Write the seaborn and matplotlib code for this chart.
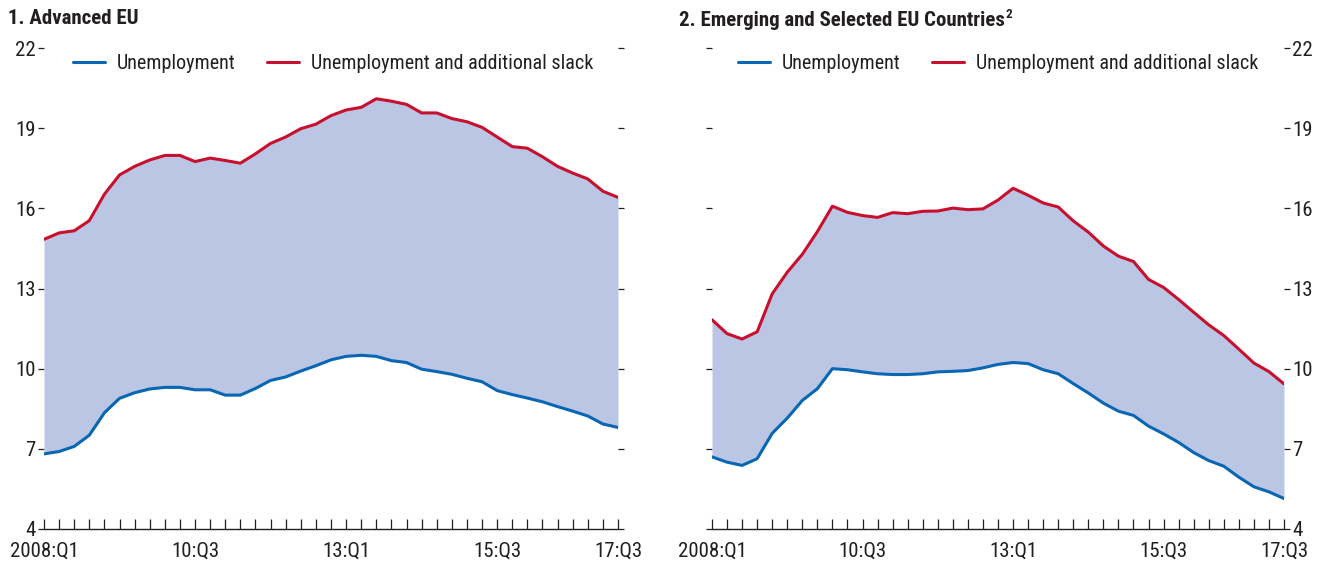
import matplotlib
matplotlib.use("Agg")
import matplotlib.pyplot as plt
import seaborn as sns
import pandas as pd
from matplotlib.lines import Line2D

# ---------------- data ----------------
quarters = [f"{y}:Q{q}" for y in range(2008, 2018) for q in range(1, 5)][:39]
tick_labels = ["2008:Q1", "10:Q3", "13:Q1", "15:Q3", "17:Q3"]
tick_quarters = ["2008:Q1", "2010:Q3", "2013:Q1", "2015:Q3", "2017:Q3"]
yticks = [4, 7, 10, 13, 16, 19, 22]

adv_unemp = [6.81, 6.90, 7.09, 7.51, 8.35, 8.89, 9.10, 9.24, 9.30, 9.30,
             9.21, 9.21, 9.01, 9.01, 9.26, 9.56, 9.69, 9.91, 10.11, 10.33,
             10.46, 10.50, 10.46, 10.30, 10.23, 9.98, 9.89, 9.79, 9.64, 9.51,
             9.18, 9.03, 8.90, 8.76, 8.58, 8.41, 8.23, 7.93, 7.80]
adv_slack = [14.84, 15.08, 15.16, 15.54, 16.53, 17.25, 17.57, 17.81, 17.98, 17.98,
             17.75, 17.88, 17.79, 17.69, 18.04, 18.43, 18.67, 18.98, 19.15, 19.47,
             19.68, 19.78, 20.10, 20.01, 19.89, 19.57, 19.57, 19.36, 19.24, 19.03,
             18.67, 18.31, 18.25, 17.93, 17.57, 17.32, 17.10, 16.64, 16.41]
em_unemp = [6.70, 6.50, 6.38, 6.63, 7.58, 8.15, 8.81, 9.25, 10.00, 9.96,
            9.88, 9.81, 9.78, 9.78, 9.81, 9.88, 9.90, 9.93, 10.03, 10.16,
            10.23, 10.19, 9.96, 9.81, 9.44, 9.09, 8.71, 8.41, 8.25, 7.85,
            7.56, 7.24, 6.86, 6.56, 6.35, 5.94, 5.58, 5.39, 5.14]
em_slack = [11.83, 11.31, 11.11, 11.38, 12.80, 13.61, 14.28, 15.13, 16.08, 15.85,
            15.73, 15.66, 15.84, 15.80, 15.89, 15.90, 16.01, 15.95, 15.98, 16.31,
            16.75, 16.49, 16.20, 16.05, 15.53, 15.11, 14.59, 14.21, 14.01, 13.34,
            13.04, 12.59, 12.11, 11.64, 11.24, 10.73, 10.21, 9.89, 9.43]

series_names = ["Unemployment", "Unemployment and additional slack"]

# ---------------- style ----------------
sns.set_theme(style="white")
FONT = ["Roboto Condensed", "DejaVu Sans"]
plt.rcParams["font.family"] = FONT
TXT = "#231F20"
BLUE = "#0866B2"
RED = "#C8102E"
FILL = "#BAC6E4"
FS = 15
LFS = 14.5

fig = plt.figure(figsize=(13.19, 5.63), dpi=100)
W, H = 1319, 563
ax1 = fig.add_axes([44 / W, 34 / H, 574 / W, 481 / H])
ax2 = fig.add_axes([712 / W, 34 / H, 572 / W, 481 / H])

tick_pos = [quarters.index(q) for q in tick_quarters]


def draw(ax, unemp, slack, right_labels, leg_x):
    df = pd.DataFrame({"idx": range(len(quarters)), "quarter": quarters,
                       series_names[0]: unemp, series_names[1]: slack})
    ax.fill_between(df["idx"], df[series_names[0]], df[series_names[1]],
                    color=FILL, lw=0, zorder=1)
    sns.lineplot(data=df, x="idx", y=series_names[0], ax=ax, color=BLUE,
                 lw=2.2, zorder=3)
    sns.lineplot(data=df, x="idx", y=series_names[1], ax=ax, color=RED,
                 lw=2.2, zorder=3)
    ax.set_xlim(0, len(quarters) - 1)
    ax.set_ylim(4, 22)
    ax.set_xlabel("")
    ax.set_ylabel("")
    for s in ["top", "left", "right"]:
        ax.spines[s].set_visible(False)
    ax.spines["bottom"].set_color(TXT)
    ax.spines["bottom"].set_linewidth(1.0)
    ax.set_xticks(tick_pos)
    ax.set_xticklabels(tick_labels)
    ax.set_xticks(range(len(quarters)), minor=True)
    ax.tick_params(axis="x", which="both", direction="in", length=7, width=0.9,
                   colors=TXT, bottom=True, top=False)
    ax.tick_params(axis="x", which="major", labelsize=FS, pad=9, labelcolor=TXT)
    ax.set_yticks(yticks)
    ax.set_yticklabels([str(v) for v in yticks])
    ax.tick_params(axis="y", direction="out", length=4, width=0.9, colors=TXT,
                   left=True, right=True, labelleft=not right_labels,
                   labelright=right_labels, labelsize=FS, pad=2)
    ax.grid(False)
    handles = [Line2D([], [], color=BLUE, lw=2.2), Line2D([], [], color=RED, lw=2.2)]
    ax.legend(handles, series_names, loc="center left",
              bbox_to_anchor=(leg_x, 0.968), ncol=2, frameon=False,
              fontsize=LFS, handlelength=1.6, handletextpad=0.55,
              columnspacing=1.6, labelcolor=TXT, borderaxespad=0, borderpad=0)


draw(ax1, adv_unemp, adv_slack, False, 29 / 574)
draw(ax2, em_unemp, em_slack, True, 26 / 572)

fig.text(8 / W, 1 - 19 / H, "1. Advanced EU", fontsize=15, weight="bold",
         color=TXT, va="center", ha="left")
t2 = fig.text(679 / W, 1 - 21 / H, "2. Emerging and Selected EU Countries",
              fontsize=15, weight="bold", color=TXT, va="center", ha="left")
sup = fig.text(0, 0, "2", fontsize=9.5, weight="bold", color=TXT,
               va="bottom", ha="left")

fig.canvas.draw()
bb = t2.get_window_extent()
sup.set_position(((bb.x1 + 1) / W, (bb.y1 - 9) / H))

fig.savefig("out.png", dpi=100)
